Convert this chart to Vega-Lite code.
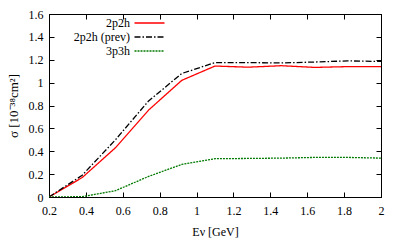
{
  "$schema": "https://vega.github.io/schema/vega-lite/v6.json",
  "autosize": "none",
  "width": 332,
  "height": 183,
  "padding": {"left": 49, "top": 14, "right": 19, "bottom": 43},
  "background": "white",
  "config": {
    "font": "serif",
    "view": {"stroke": "black", "strokeWidth": 1},
    "axis": {"grid": false, "domainColor": "black", "tickColor": "black", "labelColor": "black", "titleColor": "black", "labelFont": "serif", "titleFont": "serif", "labelFontSize": 12, "titleFontSize": 12, "titleFontWeight": "normal", "tickSize": -5, "labelPadding": 13, "labelFlush": false}
  },
  "data": {"values": [
    {"E": 0.2, "s": 0, "series": "2p2h"},
    {"E": 0.38, "s": 0.17, "series": "2p2h"},
    {"E": 0.56, "s": 0.43, "series": "2p2h"},
    {"E": 0.74, "s": 0.76, "series": "2p2h"},
    {"E": 0.92, "s": 1.02, "series": "2p2h"},
    {"E": 1.1, "s": 1.145, "series": "2p2h"},
    {"E": 1.28, "s": 1.135, "series": "2p2h"},
    {"E": 1.46, "s": 1.148, "series": "2p2h"},
    {"E": 1.64, "s": 1.133, "series": "2p2h"},
    {"E": 1.82, "s": 1.14, "series": "2p2h"},
    {"E": 2.0, "s": 1.14, "series": "2p2h"},
    {"E": 0.2, "s": 0, "series": "2p2h (prev)"},
    {"E": 0.38, "s": 0.19, "series": "2p2h (prev)"},
    {"E": 0.56, "s": 0.5, "series": "2p2h (prev)"},
    {"E": 0.74, "s": 0.84, "series": "2p2h (prev)"},
    {"E": 0.92, "s": 1.08, "series": "2p2h (prev)"},
    {"E": 1.1, "s": 1.175, "series": "2p2h (prev)"},
    {"E": 1.28, "s": 1.175, "series": "2p2h (prev)"},
    {"E": 1.46, "s": 1.172, "series": "2p2h (prev)"},
    {"E": 1.64, "s": 1.18, "series": "2p2h (prev)"},
    {"E": 1.82, "s": 1.19, "series": "2p2h (prev)"},
    {"E": 2.0, "s": 1.185, "series": "2p2h (prev)"},
    {"E": 0.2, "s": 0, "series": "3p3h"},
    {"E": 0.38, "s": 0.003, "series": "3p3h"},
    {"E": 0.56, "s": 0.055, "series": "3p3h"},
    {"E": 0.74, "s": 0.18, "series": "3p3h"},
    {"E": 0.92, "s": 0.285, "series": "3p3h"},
    {"E": 1.1, "s": 0.335, "series": "3p3h"},
    {"E": 1.28, "s": 0.337, "series": "3p3h"},
    {"E": 1.46, "s": 0.34, "series": "3p3h"},
    {"E": 1.64, "s": 0.346, "series": "3p3h"},
    {"E": 1.82, "s": 0.346, "series": "3p3h"},
    {"E": 2.0, "s": 0.34, "series": "3p3h"}
  ]},
  "layer": [
    {
      "mark": {"type": "line", "strokeWidth": 1.3, "clip": true},
      "encoding": {
        "x": {"field": "E", "type": "quantitative", "scale": {"domain": [0.2, 2], "nice": false, "zero": false}, "axis": {"orient": "bottom", "values": [0.2, 0.4, 0.6, 0.8, 1, 1.2, 1.4, 1.6, 1.8, 2], "format": "~g", "title": "Eν [GeV]", "titlePadding": 10}},
        "y": {"field": "s", "type": "quantitative", "scale": {"domain": [0, 1.6], "nice": false}, "axis": {"orient": "left", "values": [0, 0.2, 0.4, 0.6, 0.8, 1, 1.2, 1.4, 1.6], "format": "~g", "title": "σ [10⁻³⁸cm²]", "titleFontSize": 13, "titlePadding": 8, "labelPadding": 11}},
        "color": {"field": "series", "type": "nominal", "scale": {"domain": ["2p2h", "2p2h (prev)", "3p3h"], "range": ["#ff0000", "#000000", "#007a00"]},
          "legend": {"orient": "none", "legendX": 94.5, "legendY": 3, "title": null, "symbolType": "M-3,0H3", "symbolSize": 100, "symbolStrokeWidth": 1.3, "labelAlign": "right", "labelOffset": -25.5, "labelFontSize": 12, "labelFont": "serif", "labelColor": "black", "rowPadding": 2}},
        "strokeDash": {"field": "series", "type": "nominal", "scale": {"domain": ["2p2h", "2p2h (prev)", "3p3h"], "range": [[1, 0], [6, 2, 1.5, 2], [2, 1]]}}
      }
    },
    {
      "mark": {"type": "line", "opacity": 0},
      "encoding": {
        "x": {"field": "E", "type": "quantitative", "axis": {"orient": "top", "values": [0.2, 0.4, 0.6, 0.8, 1, 1.2, 1.4, 1.6, 1.8, 2], "labels": false, "title": null}},
        "y": {"field": "s", "type": "quantitative", "axis": {"orient": "right", "values": [0, 0.2, 0.4, 0.6, 0.8, 1, 1.2, 1.4, 1.6], "labels": false, "title": null}},
        "detail": {"field": "series"}
      }
    }
  ]
}
